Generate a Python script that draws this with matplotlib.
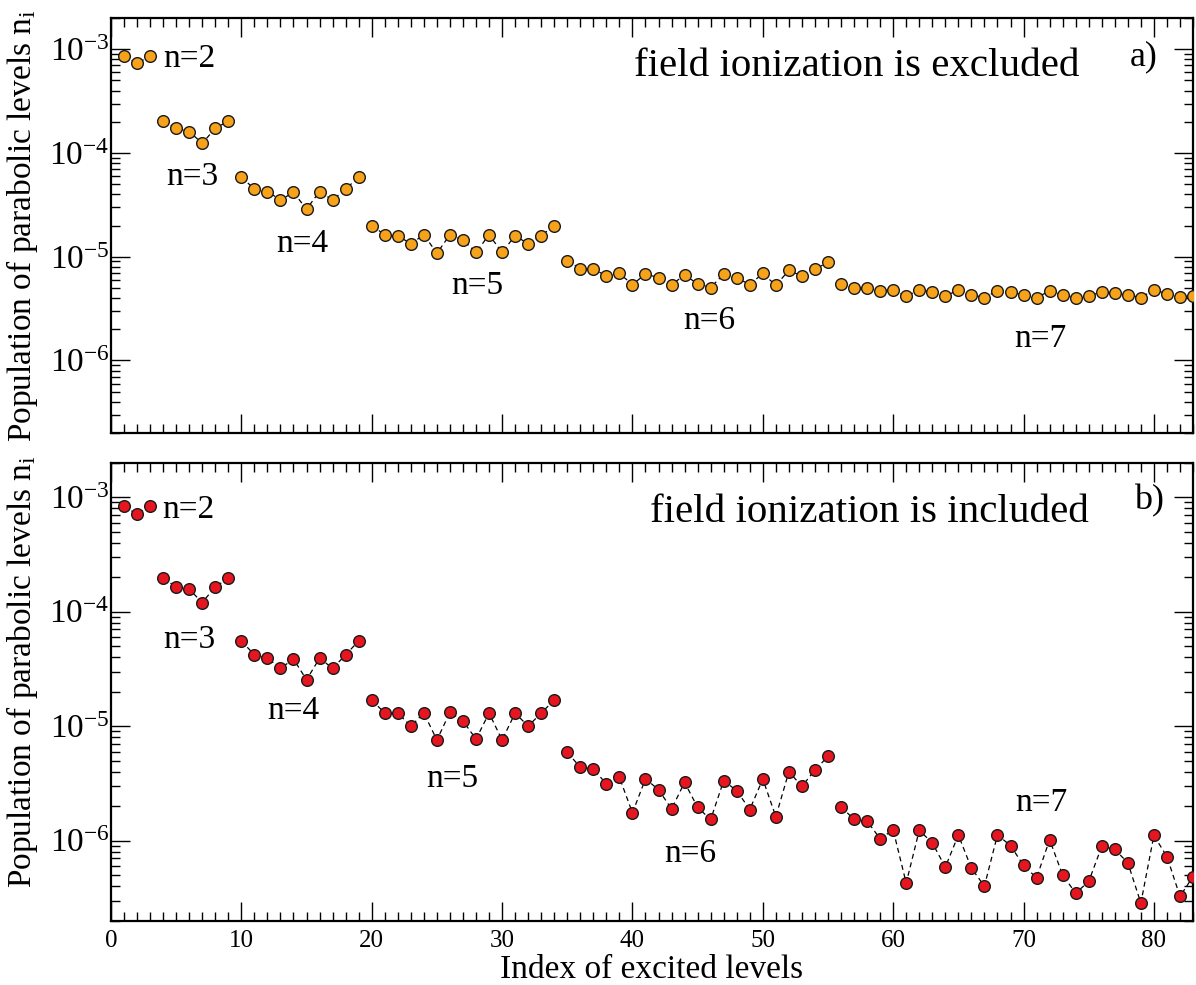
import numpy as np
import matplotlib
matplotlib.use("Agg")
import matplotlib.pyplot as plt
from matplotlib.ticker import LogLocator, MultipleLocator, NullFormatter, LogFormatterMathtext

plt.rcParams['font.family'] = ['Liberation Serif', 'DejaVu Serif']
plt.rcParams['mathtext.fontset'] = 'custom'
plt.rcParams['mathtext.rm'] = 'Liberation Serif'
plt.rcParams['mathtext.it'] = 'Liberation Serif:italic'
plt.rcParams['axes.unicode_minus'] = False

# ---------------- data ----------------
shells = [2, 3, 4, 5, 6, 7]
group_sizes = [3, 6, 10, 15, 21, 28]   # n(n+1)/2 parabolic levels per shell

pop_excluded = [
    8.6e-4, 7.3e-4, 8.6e-4,
    2.03e-4, 1.73e-4, 1.61e-4, 1.24e-4, 1.73e-4, 2.03e-4,
    5.85e-5, 4.5e-5, 4.25e-5, 3.53e-5, 4.17e-5, 2.88e-5, 4.25e-5, 3.53e-5, 4.5e-5, 5.85e-5,
    2.0e-5, 1.63e-5, 1.6e-5, 1.33e-5, 1.63e-5, 1.08e-5, 1.63e-5, 1.45e-5, 1.1e-5, 1.63e-5,
    1.1e-5, 1.6e-5, 1.33e-5, 1.6e-5, 2.0e-5,
    9.14e-6, 7.7e-6, 7.6e-6, 6.55e-6, 6.9e-6, 5.4e-6, 6.8e-6, 6.3e-6, 5.4e-6, 6.64e-6,
    5.5e-6, 5.05e-6, 6.8e-6, 6.25e-6, 5.4e-6, 6.9e-6, 5.3e-6, 7.4e-6, 6.5e-6, 7.6e-6, 8.83e-6,
    5.5e-6, 5.05e-6, 5.0e-6, 4.68e-6, 4.8e-6, 4.15e-6, 4.8e-6, 4.57e-6, 4.2e-6, 4.75e-6,
    4.3e-6, 4.04e-6, 4.7e-6, 4.55e-6, 4.3e-6, 4.04e-6, 4.68e-6, 4.3e-6, 4.04e-6, 4.2e-6,
    4.57e-6, 4.5e-6, 4.3e-6, 4.04e-6, 4.8e-6, 4.4e-6, 4.1e-6, 4.2e-6,
]

pop_included = [
    8.35e-4, 7.07e-4, 8.35e-4,
    1.95e-4, 1.65e-4, 1.57e-4, 1.2e-4, 1.65e-4, 1.95e-4,
    5.56e-5, 4.19e-5, 3.92e-5, 3.2e-5, 3.85e-5, 2.54e-5, 3.92e-5, 3.2e-5, 4.19e-5, 5.56e-5,
    1.69e-5, 1.3e-5, 1.3e-5, 1.0e-5, 1.3e-5, 7.57e-6, 1.32e-5, 1.11e-5, 7.7e-6, 1.3e-5,
    7.57e-6, 1.3e-5, 1.0e-5, 1.3e-5, 1.69e-5,
    5.9e-6, 4.37e-6, 4.22e-6, 3.13e-6, 3.57e-6, 1.75e-6, 3.46e-6, 2.79e-6, 1.89e-6, 3.23e-6,
    1.95e-6, 1.53e-6, 3.34e-6, 2.73e-6, 1.87e-6, 3.45e-6, 1.62e-6, 4.0e-6, 2.98e-6, 4.14e-6, 5.45e-6,
    1.98e-6, 1.53e-6, 1.48e-6, 1.04e-6, 1.24e-6, 4.26e-7, 1.23e-6, 9.57e-7, 5.87e-7, 1.12e-6,
    5.75e-7, 4.01e-7, 1.12e-6, 9.06e-7, 6.07e-7, 4.73e-7, 1.02e-6, 5.0e-7, 3.48e-7, 4.4e-7,
    8.9e-7, 8.38e-7, 6.41e-7, 2.85e-7, 1.11e-6, 7.26e-7, 3.26e-7, 4.86e-7,
]

# shell label anchors (x index, y population) for each panel
label_pos_excluded = [(5.98, 6.74e-4), (6.2, 4.93e-5), (14.67, 1.1e-5),
                      (28.1, 4.35e-6), (45.9, 1.99e-6), (71.26, 1.34e-6)]
label_pos_included = [(5.93, 6.6e-4), (5.98, 4.85e-5), (13.95, 1.15e-5),
                      (26.17, 2.92e-6), (44.4, 6.49e-7), (71.34, 1.83e-6)]

titles = ["field ionization is excluded", "field ionization is included"]
panel_tags = ["a)", "b)"]

x_label = "Index of excited levels"
y_label = "Population of parabolic levels n$_{\\mathregular{i}}$"

# ---------------- figure ----------------
fig = plt.figure(figsize=(11.96, 9.85), dpi=100)
ax1 = fig.add_axes([0.0928, 0.5604, 0.9047, 0.4213])
ax2 = fig.add_axes([0.0928, 0.0653, 0.9047, 0.4650])

colors = ["#F7A21B", "#E5161F"]
pops = [pop_excluded, pop_included]
labpos = [label_pos_excluded, label_pos_included]
title_pos = [(57.2, 5.5e-4), (58.2, 6.1e-4)]
tag_pos = [(79.2, 7.0e-4), (79.6, 7.8e-4)]
ylab_y = [0.50, 0.544]

for k, ax in enumerate([ax1, ax2]):
    vals = np.array(pops[k])
    start = 1
    for size in group_sizes:
        xs = np.arange(start, start + size)
        ys = vals[start - 1:start - 1 + size]
        ax.plot(xs, ys, linestyle=(0, (4, 3)), color='black', linewidth=0.9,
                marker='o', markersize=8.4, markerfacecolor=colors[k],
                markeredgecolor='#1a1a1a', markeredgewidth=1.0, zorder=3)
        start += size

    ax.set_yscale('log')
    ax.set_ylim(2e-7, 2e-3)
    ax.set_xlim(0, 83)
    ax.xaxis.set_major_locator(MultipleLocator(10))
    ax.xaxis.set_minor_locator(MultipleLocator(1))
    ax.yaxis.set_major_locator(LogLocator(base=10, numticks=10))
    ax.yaxis.set_minor_locator(LogLocator(base=10, subs=np.arange(2, 10), numticks=20))
    ax.yaxis.set_minor_formatter(NullFormatter())
    ax.yaxis.set_major_formatter(LogFormatterMathtext())
    ax.tick_params(which='both', direction='in', top=True, right=True, width=1.0)
    ax.tick_params(which='major', length=13.5)
    ax.tick_params(which='minor', length=6.5)
    ax.tick_params(axis='y', which='major', labelsize=24, pad=1)
    ax.tick_params(axis='x', which='major', labelsize=18, pad=7)
    for sp in ax.spines.values():
        sp.set_linewidth(1.6)

    for n, (lx, ly) in zip(shells, labpos[k]):
        ax.text(lx, ly, f"n={n}", fontsize=24, ha='center', va='baseline')
    ax.text(title_pos[k][0], title_pos[k][1], titles[k], fontsize=29.5,
            ha='center', va='baseline')
    ax.text(tag_pos[k][0], tag_pos[k][1], panel_tags[k], fontsize=26,
            ha='center', va='baseline')

    ax.set_ylabel(y_label, fontsize=24)
    ax.yaxis.set_label_coords(-0.066, ylab_y[k])

ax1.tick_params(axis='x', labelbottom=False)
ax2.set_xlabel(x_label, fontsize=24)
ax2.xaxis.set_label_coords(0.5, -0.073)

fig.savefig("out.png", dpi=100)
